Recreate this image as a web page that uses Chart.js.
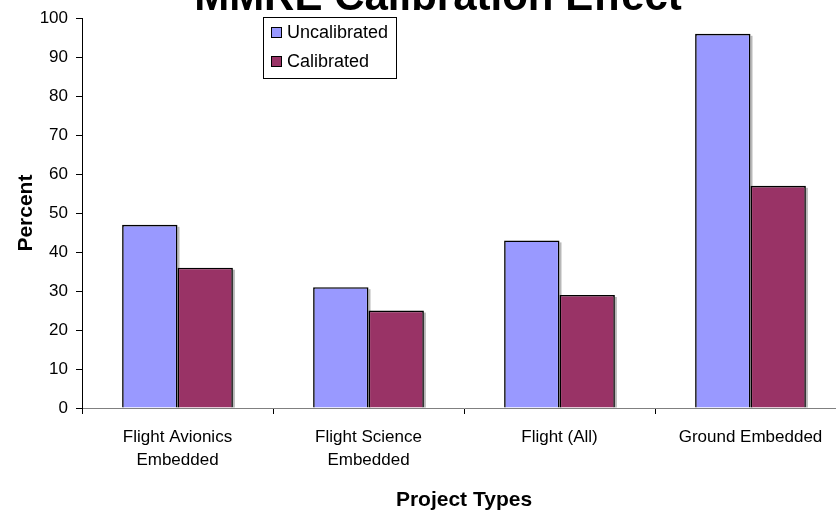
<!DOCTYPE html>
<html>
<head>
<meta charset="utf-8">
<script src="https://cdn.jsdelivr.net/npm/chart.js@4/dist/chart.umd.min.js"></script>
<style>
  html, body { margin: 0; padding: 0; background: #fff; }
  #wrap { width: 836px; height: 513px; overflow: hidden; position: relative; }
  canvas { display: block; }
</style>
</head>
<body>
<div id="wrap"><canvas id="chart" width="850" height="513"></canvas></div>
<script>
// Project types along the x axis (split into lines)
const categories = [
  ['Flight Avionics', 'Embedded'],
  ['Flight Science', 'Embedded'],
  ['Flight (All)'],
  ['Ground Embedded']
];
// MMRE in percent
const uncalibrated = [47, 31, 43, 96];
const calibrated = [36, 25, 29, 57];
const seriesNames = ['Uncalibrated', 'Calibrated'];
const seriesColors = ['#9999FF', '#993366'];
const yTicks = [0, 10, 20, 30, 40, 50, 60, 70, 80, 90, 100];
const chartTitle = 'MMRE Calibration Effect';

const FONT = '"Liberation Sans", Arial, sans-serif';

// Title text drawn centred above the plot
const titlePlugin = {
  id: 'topTitle',
  afterDraw(chart) {
    const ctx = chart.ctx;
    ctx.save();
    ctx.font = 'bold 42px ' + FONT;
    ctx.fillStyle = '#000';
    ctx.textAlign = 'center';
    ctx.textBaseline = 'alphabetic';
    ctx.fillText(chartTitle, 438, 10);
    ctx.restore();
  }
};

// Boxed legend placed inside the plot area
const boxLegend = {
  id: 'boxLegend',
  afterDraw(chart) {
    const ctx = chart.ctx;
    const x = 263.5, y = 17.5, w = 133, h = 61;
    ctx.save();
    ctx.fillStyle = '#fff';
    ctx.fillRect(x, y, w, h);
    ctx.strokeStyle = '#000';
    ctx.lineWidth = 1;
    ctx.strokeRect(x, y, w, h);
    ctx.font = '18px ' + FONT;
    ctx.textBaseline = 'middle';
    chart.data.datasets.forEach((ds, i) => {
      const cy = 33 + i * 29;
      ctx.fillStyle = ds.backgroundColor;
      ctx.fillRect(271.5, cy - 5.5, 10, 10);
      ctx.strokeRect(271.5, cy - 5.5, 10, 10);
      ctx.fillStyle = '#000';
      ctx.fillText(ds.label, 287, cy);
    });
    ctx.restore();
  }
};

// Soft grey shadow on the right/bottom edge of each bar
const barShadow = {
  id: 'barShadow',
  beforeDatasetsDraw(chart) {
    const ctx = chart.ctx;
    ctx.save();
    ctx.fillStyle = 'rgba(0,0,0,0.28)';
    chart.data.datasets.forEach((ds, i) => {
      chart.getDatasetMeta(i).data.forEach(bar => {
        const left = bar.x - bar.width / 2;
        const right = bar.x + bar.width / 2;
        ctx.fillRect(right, bar.y + 2, 2, bar.base - bar.y - 2);
        ctx.fillRect(left + 2, bar.y - 0, right - left, 0);
      });
    });
    ctx.restore();
  }
};

new Chart(document.getElementById('chart'), {
  type: 'bar',
  data: {
    labels: categories,
    datasets: [
      { label: seriesNames[0], data: uncalibrated, backgroundColor: seriesColors[0] },
      { label: seriesNames[1], data: calibrated, backgroundColor: seriesColors[1] }
    ]
  },
  options: {
    responsive: false,
    devicePixelRatio: 1,
    animation: false,
    layout: { padding: { top: 18, right: 4, left: 0, bottom: 0 } },
    datasets: {
      bar: {
        categoryPercentage: 0.58,
        barPercentage: 1.0,
        borderColor: '#000',
        borderWidth: 1.6
      }
    },
    plugins: {
      legend: { display: false },
      title: { display: false },
      tooltip: { enabled: false }
    },
    scales: {
      x: {
        grid: { drawOnChartArea: false, drawTicks: true, tickLength: 6, color: '#000', offset: true },
        border: { color: '#808080', width: 1 },
        ticks: {
          color: '#000',
          font: { family: FONT, size: 17, lineHeight: 1.4 },
          padding: 11,
          maxRotation: 0
        },
        title: {
          display: true,
          text: 'Project Types',
          color: '#000',
          font: { family: FONT, size: 21, weight: 'bold' },
          padding: { top: 12, bottom: 0 }
        },
        afterFit(scale) { scale.height = 105; }
      },
      y: {
        min: 0,
        max: 100,
        afterBuildTicks(scale) { scale.ticks = yTicks.map(v => ({ value: v })); },
        grid: { drawOnChartArea: false, drawTicks: true, tickLength: 6, color: '#000' },
        border: { color: '#000', width: 1 },
        ticks: {
          color: '#000',
          font: { family: FONT, size: 17 },
          padding: 8
        },
        title: {
          display: true,
          text: 'Percent',
          color: '#000',
          font: { family: FONT, size: 21, weight: 'bold' },
          padding: { top: 14, bottom: 4 }
        },
        afterFit(scale) { scale.width = 82; }
      }
    }
  },
  plugins: [barShadow, titlePlugin, boxLegend]
});
</script>
</body>
</html>
